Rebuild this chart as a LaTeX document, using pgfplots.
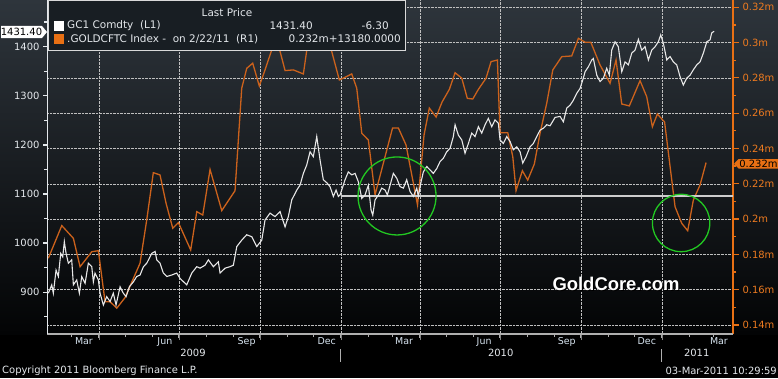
\documentclass[border=0pt]{standalone}
\usepackage{pgfplots}
\pgfplotsset{compat=1.18}
\usepackage{fontspec}
\setmainfont{DejaVu Sans}
\newfontfamily\goldfont{Liberation Sans}
\definecolor{bgtop}{RGB}{46,53,60}
\definecolor{bgbot}{RGB}{3,4,5}
\definecolor{goldline}{RGB}{232,232,232}
\definecolor{cftcline}{RGB}{204,98,28}
\definecolor{axorange}{RGB}{232,112,20}
\definecolor{lblorange}{RGB}{236,122,32}
\definecolor{circgreen}{RGB}{34,200,34}
\definecolor{legbg}{RGB}{24,30,35}
\definecolor{txt}{RGB}{228,232,236}
\definecolor{monthc}{RGB}{215,228,240}
\definecolor{hline}{RGB}{205,205,205}
\definecolor{xaxisc}{RGB}{175,175,175}
\begin{document}
\begin{tikzpicture}[x=1bp,y=1bp,font=\fontsize{10}{11}\selectfont]
\fill[black] (0,0) rectangle (778,378);
\shade[top color=bgtop,bottom color=bgbot] (0,44) rectangle (778,378);

% CFTC (right axis) with grid
\begin{axis}[at={(47bp,44bp)}, anchor=south west, scale only axis,
  width=686bp, height=334bp,
  xmin=31, xmax=811, ymin=0.1349, ymax=0.3241,
  axis x line*=bottom, axis y line*=right,
  x axis line style={draw=none},
  xtick={90,181,273,365,455,546,638,730}, xticklabels={},
  ytick={0.14,0.16,0.18,0.20,0.22,0.24,0.26,0.28,0.30,0.32},
  yticklabels={0.14m,0.16m,0.18m,0.2m,0.22m,0.24m,0.26m,0.28m,0.3m,0.32m},
  minor ytick={0.15,0.17,0.19,0.21,0.23,0.25,0.27,0.29,0.31},
  grid=major,
  every axis grid/.append style={densely dotted},
  tick align=outside, major tick length=6bp, minor tick length=3bp,
  y axis line style={axorange, line width=1.1bp},
  ytick style={axorange, line width=1.3bp},
  yticklabel style={lblorange, font=\fontsize{10}{11}\selectfont}]
\addplot[cftcline, line width=1.3bp] coordinates {
(32.5,0.1778)(47.8,0.1963)(61,0.1891)(68.6,0.173)(81.9,0.1815)(89.4,0.1821)(97,0.1532)(102.7,0.1532)(110.3,0.1495)(119.7,0.1555)(136.8,0.175)(144.4,0.1995)(151.9,0.2263)(159.5,0.225)(166.4,0.2089)(174,0.1948)(180.4,0.198)(194.4,0.1825)(201.3,0.2042)(208.1,0.2023)(216.4,0.2281)(229.7,0.2048)(244.8,0.2161)(252.4,0.2741)(258.1,0.2854)(264.9,0.2883)(272.4,0.2754)(278.9,0.2845)(286.5,0.2958)(294.1,0.2986)(301.7,0.2841)(311.1,0.2845)(322.5,0.2822)(330.1,0.3087)(337.7,0.3033)(349.1,0.3043)(354.8,0.2948)(363.4,0.2788)(369.9,0.2803)(377.5,0.2822)(383.2,0.2741)(388.9,0.2486)(396.4,0.2448)(404,0.2137)(423.9,0.2516)(430.5,0.2516)(439.2,0.242)(452.3,0.208)(459.7,0.2476)(465.7,0.2629)(473.4,0.2578)(480.2,0.2663)(488.5,0.2735)(495,0.2829)(502.6,0.2798)(508.9,0.2684)(515.1,0.268)(521.5,0.2735)(530.2,0.2798)(535.9,0.2892)(543.1,0.2901)(546.1,0.2489)(554.9,0.2489)(560.6,0.2353)(564.3,0.2161)(571.5,0.2274)(577.6,0.2221)(585.1,0.2312)(591.6,0.2486)(599.2,0.2656)(606.1,0.2845)(616.3,0.292)(627.6,0.2924)(635.2,0.3024)(642.8,0.3002)(649.3,0.3002)(659.8,0.2873)(671.2,0.2769)(678,0.2901)(684.5,0.2652)(693.1,0.2641)(705.3,0.2784)(712.9,0.2693)(719.3,0.2523)(725,0.2595)(733.2,0.255)(745.1,0.207)(752.7,0.1976)(759.5,0.1934)(765.9,0.2108)(773.5,0.2193)(780.4,0.232)
};
\end{axis}

% Gold (left axis)
\begin{axis}[at={(47bp,44bp)}, anchor=south west, scale only axis,
  width=686bp, height=334bp,
  xmin=31, xmax=811, ymin=814.9, ymax=1495.1,
  axis x line*=bottom, axis y line*=left,
  x axis line style={xaxisc, line width=1.8bp},
  y axis line style={txt, line width=1bp},
  xtick={90,181,273,365,455,546,638,730}, xticklabels={},
  minor xtick={59,120,151,212,243,304,334,396,424,485,516,577,608,669,699,761,789},
  extra x ticks={73,165,258,349,437,528,622,713,795},
  extra x tick labels={Mar,Jun,Sep,Dec,Mar,Jun,Sep,Dec,Mar},
  extra x tick style={major tick length=0pt, grid=none},
  ytick={900,1000,1100,1200,1300,1400},
  yticklabels={900,1000,1100,1200,1300,1400},
  minor ytick={850,950,1050,1150,1250,1350,1450},
  tick align=outside, major tick length=4bp, minor tick length=3bp,
  xtick style={xaxisc, line width=1bp},
  ytick style={txt, line width=1.3bp},
  yticklabel style={txt, font=\fontsize{10}{11}\selectfont},
  xticklabel style={monthc, font=\fontsize{9.5}{10}\selectfont}]
\addplot[hline, line width=1.6bp] coordinates {(365,1096.5)(811,1096.5)};
\addplot[goldline, line width=1.1bp] coordinates {
(32.5,898)(36.4,915)(38.2,898)(41.3,945)(43.9,932)(46.6,979)(48.9,972)(50.7,1003)(52.7,979)(55.3,959)(59.1,966)(61,915)(64.8,925)(67.8,898)(70.5,932)(74.3,918)(78,959)(81.9,952)(83.7,921)(85.6,939)(89.4,925)(91.3,898)(95.1,874)(98.9,891)(102.7,881)(106.4,898)(109.5,874)(114.1,911)(117.8,898)(120.9,891)(124.6,911)(129.2,921)(133,932)(136.8,935)(140.6,952)(144.4,959)(150.1,979)(153.9,983)(155.8,966)(159.5,959)(163.3,939)(167.2,932)(172.8,935)(178.5,939)(182.3,928)(189.9,915)(195.6,939)(201.3,952)(205,949)(210.7,955)(214.5,966)(220.1,952)(225.8,962)(227.8,939)(233.5,949)(239.1,952)(242.9,955)(246.8,993)(252.4,1006)(258.1,1017)(263.8,1013)(269.5,993)(275.2,1006)(278.9,1047)(284.6,1061)(290.3,1054)(296,1064)(301.7,1033)(305.4,1054)(309.3,1088)(315,1108)(318.7,1118)(322.5,1142)(326.3,1159)(330.1,1186)(333.8,1176)(337.7,1217)(341.5,1169)(345.2,1129)(349.1,1123)(352.8,1115)(356.6,1095)(359.7,1108)(362.3,1095)(364.2,1098)(369.9,1129)(373.6,1145)(377.5,1139)(381.3,1142)(385,1125)(388.9,1091)(392.6,1098)(396.4,1118)(399.5,1067)(401.4,1057)(404,1088)(407.8,1098)(411.6,1112)(415.4,1108)(418,1098)(421.1,1118)(424.8,1142)(428.7,1132)(432.4,1115)(436.2,1112)(440,1129)(443.8,1105)(447.5,1095)(451.4,1112)(453.2,1095)(456,1122)(458.9,1145)(462.8,1156)(466.5,1149)(470.3,1142)(474.2,1152)(477.9,1166)(481.7,1173)(485.5,1186)(489.3,1193)(493,1217)(495,1241)(498.7,1220)(502.6,1210)(506.3,1183)(510.1,1203)(513.9,1224)(517.7,1217)(521.5,1237)(525.3,1224)(529.1,1241)(532.8,1254)(536.7,1237)(540.4,1251)(544.2,1244)(546.1,1210)(549.9,1203)(553.7,1217)(557.5,1207)(561.2,1190)(565.1,1196)(568.9,1186)(571.9,1163)(575.7,1176)(580.2,1196)(584,1203)(587.9,1217)(591.6,1230)(595.4,1234)(599.2,1241)(603,1239)(608.7,1256)(614.4,1258)(618.1,1247)(622,1275)(625.8,1281)(629.5,1291)(633.3,1305)(637.1,1315)(640.8,1336)(642.8,1349)(646.5,1359)(650.4,1373)(652.2,1376)(656.1,1342)(659.8,1329)(663.6,1336)(667.4,1356)(670.4,1342)(673.1,1393)(676.9,1410)(680.6,1400)(684.5,1349)(688.3,1369)(692,1363)(695.9,1387)(699.6,1393)(703.4,1415)(707.2,1393)(711,1400)(714.8,1373)(718.6,1393)(722.4,1400)(726.1,1410)(728.8,1424)(731.8,1407)(735.7,1373)(739.4,1380)(743.2,1369)(747,1363)(750.8,1339)(754.5,1322)(758.4,1336)(762.2,1342)(765.9,1353)(769.8,1363)(773.5,1369)(777.3,1387)(781.2,1410)(784.9,1414)(786.8,1428)(789.5,1431.4)
};
\draw[circgreen, line width=1.3bp] (axis cs:429,1096) circle[radius=39bp];
\draw[circgreen, line width=1.3bp] (axis cs:752,1041) circle[radius=28.7bp];
\end{axis}

% legend box
\fill[legbg] (48,327) rectangle (406,378);
\draw[white!85!black, line width=0.9bp] (48.5,327.5) rectangle (405.5,377.5);
\begin{scope}[every node/.style={inner sep=0pt, text=txt, font=\fontsize{10.5}{12}\selectfont}]
\node at (227,365) {Last Price};
\fill[white] (54,347) rectangle (64,357);
\node[anchor=west] at (67,352) {GC1 Comdty\ \ (L1)};
\node[anchor=east] at (313,352) {1431.40};
\node[anchor=east] at (389,352) {-6.30};
\fill[axorange] (54,334) rectangle (64,344);
\node[anchor=west] at (67,339) {.GOLDCFTC Index -\ \ on 2/22/11\ \ (R1)};
\node[anchor=east] at (329,339) {0.232m};
\node[anchor=east] at (401,339) {+13180.0000};
\end{scope}

% value flags
\fill[white] (1,340) -- (42,340) -- (47,346) -- (42,352) -- (1,352) -- cycle;
\node[inner sep=0pt, text=black] at (21.5,346) {1431.40};
\fill[axorange] (734,214.2) -- (738.5,219) -- (778,219) -- (778,209.5) -- (738.5,209.5) -- cycle;
\node[inner sep=0pt, text=black] at (758.5,214.2) {0.232m};

% watermark
\node[text=black] at (617,93) {\goldfont\bfseries\fontsize{18.5}{20}\selectfont GoldCore.com};
\node[text=white] at (616,94) {\goldfont\bfseries\fontsize{18.5}{20}\selectfont GoldCore.com};

% years and footer
\begin{scope}[every node/.style={inner sep=0pt, text=txt}]
\node at (193,25) {2009};
\node at (500.7,25) {2010};
\node at (696.7,25) {2011};
\node[anchor=west] at (2,7) {Copyright 2011 Bloomberg Finance L.P.};
\node[anchor=east] at (777,7) {03-Mar-2011 10:29:59};
\end{scope}
\draw[xaxisc, line width=1.2bp] (340.7,29) -- (340.7,16);
\draw[xaxisc, line width=1.2bp] (661.7,29) -- (661.7,16);

\pgfresetboundingbox
\useasboundingbox (0,0) rectangle (778,378);
\end{tikzpicture}
\end{document}
